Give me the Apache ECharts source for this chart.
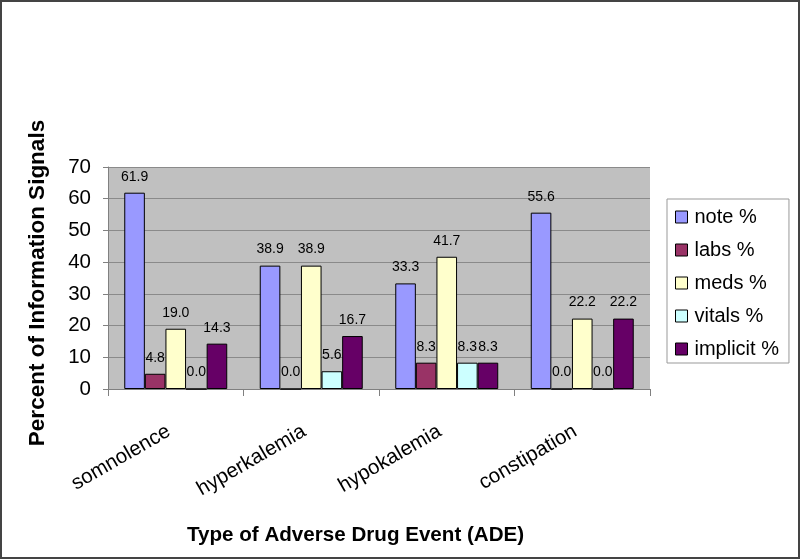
<!DOCTYPE html>
<html><head><meta charset="utf-8">
<script src="https://cdn.jsdelivr.net/npm/echarts@6/dist/echarts.min.js"></script>
<style>html,body{margin:0;padding:0;background:#fff}
#wrap{position:relative;width:800px;height:559px}
#c{width:800px;height:559px}
#frame{position:absolute;left:0;top:0;width:800px;height:559px;box-sizing:border-box;border:2px solid #444;pointer-events:none}</style>
</head><body><div id="wrap"><div id="c"></div><div id="frame"></div></div>
<script>
const categories = ['somnolence','hyperkalemia','hypokalemia','constipation'];
const seriesNames = ['note %','labs %','meds %','vitals %','implicit %'];
const note = [61.9, 38.9, 33.3, 55.6];
const labs = [4.8, 0.0, 8.3, 0.0];
const meds = [19.0, 38.9, 41.7, 22.2];
const vitals = [0.0, 5.6, 8.3, 0.0];
const implicit = [14.3, 16.7, 8.3, 22.2];
const yTicks = [0, 10, 20, 30, 40, 50, 60, 70];
const colors = ['#9999FF','#993366','#FFFFCC','#CCFFFF','#660066'];
const allData = [note, labs, meds, vitals, implicit];

const chart = echarts.init(document.getElementById('c'), null, {renderer:'canvas'});
const font = 'Liberation Sans, Arial, sans-serif';
chart.setOption({
  animation:false,
  textStyle:{fontFamily:font},
  title:{text:'Type of Adverse Drug Event (ADE)', left:182, top:520,
    textStyle:{fontFamily:font, fontWeight:'bold', fontSize:20.6, color:'#000'}},
  grid:{left:108, right:150, top:167, bottom:170, show:true, backgroundColor:'#C0C0C0', borderWidth:0},
  legend:{orient:'vertical', left:667, top:199, itemWidth:12, itemHeight:12, itemGap:13,
    padding:[8,10,4,8],
    data: seriesNames, icon:'rect',
    borderColor:'#999', borderWidth:1, backgroundColor:'#fff',
    textStyle:{fontFamily:font, fontSize:20, color:'#000', padding:[0,0,0,2]},
    itemStyle:{borderColor:'#000', borderWidth:1}},
  xAxis:{type:'category', data:categories,
    axisLine:{lineStyle:{color:'#808080'}},
    axisTick:{show:true, length:7, alignWithLabel:false, lineStyle:{color:'#808080'}},
    axisLabel:{rotate:30, fontSize:20.5, color:'#000', margin:37, padding:[0,8,0,0], fontFamily:font}},
  yAxis:{type:'value', min:0, max:70, interval:10,
    name:'Percent of Information Signals', nameLocation:'middle', nameGap:59, nameRotate:90,
    nameTextStyle:{fontFamily:font, fontWeight:'bold', fontSize:22.5, color:'#000', padding:[0,10,0,0]},
    axisLine:{show:true, lineStyle:{color:'#808080'}},
    axisTick:{show:true, length:5, lineStyle:{color:'#808080'}},
    axisLabel:{fontSize:20.5, color:'#000', margin:17, fontFamily:font,
      formatter: v => yTicks.includes(v) ? String(v) : ''},
    splitLine:{show:true, lineStyle:{color:'#8a8a8a', width:1}}},
  series: seriesNames.map((n,i)=>({
    name:n, type:'bar', data:allData[i], barGap:'0%', barCategoryGap:'24%',
    itemStyle:{color:colors[i], borderColor:'#000', borderWidth:1},
    label:{show:true, position:'top', distance:9, fontSize:14, color:'#000', fontFamily:font,
      formatter: p => p.value.toFixed(1)}
  }))
});
</script></body></html>
